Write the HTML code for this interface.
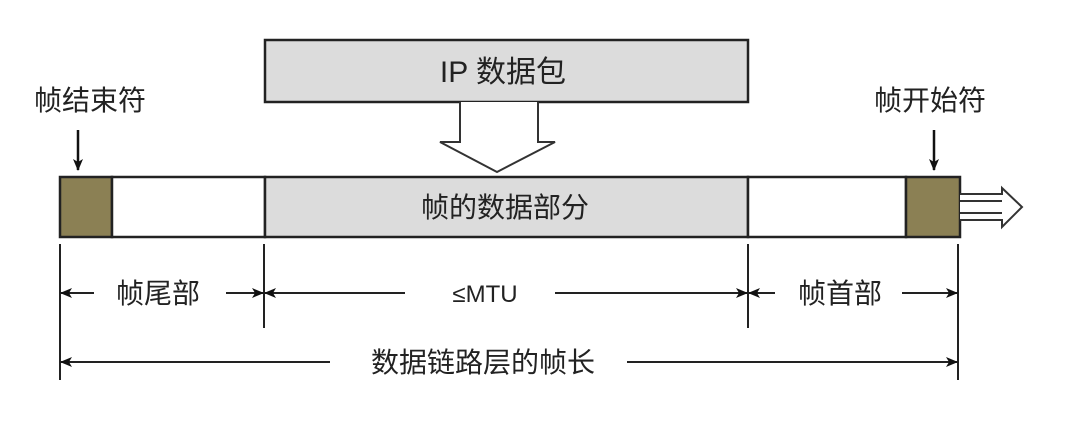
<!DOCTYPE html>
<html><head><meta charset="utf-8"><style>
body{margin:0;background:#fff;}
svg text{font-family:"Liberation Sans","Noto Sans CJK SC",sans-serif;fill:#222;}
</style></head><body>
<svg width="1086" height="416" viewBox="0 0 1086 416" xmlns="http://www.w3.org/2000/svg">
<defs>
<marker id="a" markerWidth="12" markerHeight="10" refX="11" refY="5" orient="auto" markerUnits="userSpaceOnUse"><path d="M0,0 L12,5 L0,10 L3,5 Z" fill="#111"/></marker>
</defs>
<rect x="265" y="40" width="483" height="62" fill="#dcdcdc" stroke="#222" stroke-width="2.5"/>
<text x="503" y="82" font-size="30" text-anchor="middle">IP 数据包</text>
<path d="M460,102 L460,142 L440,142 L497,172 L555,142 L538,142 L538,102" fill="#fff" stroke="#333" stroke-width="2"/>
<text x="90" y="110" font-size="28" text-anchor="middle">帧结束符</text>
<text x="930" y="110" font-size="28" text-anchor="middle">帧开始符</text>
<line x1="78" y1="130" x2="78" y2="170" stroke="#111" stroke-width="2.5" marker-end="url(#a)"/>
<line x1="934" y1="130" x2="934" y2="170" stroke="#111" stroke-width="2.5" marker-end="url(#a)"/>
<rect x="60" y="177" width="52" height="60" fill="#8b8054" stroke="#222" stroke-width="2.5"/>
<rect x="112" y="177" width="153" height="60" fill="#fff" stroke="#222" stroke-width="2.5"/>
<rect x="265" y="177" width="483" height="60" fill="#dcdcdc" stroke="#222" stroke-width="2.5"/>
<rect x="748" y="177" width="158" height="60" fill="#fff" stroke="#222" stroke-width="2.5"/>
<rect x="906" y="177" width="54" height="60" fill="#8b8054" stroke="#222" stroke-width="2.5"/>
<text x="505" y="217" font-size="28" text-anchor="middle">帧的数据部分</text>
<path d="M960,194 L1002,194 L1002,188 L1022,207 L1002,227 L1002,220 L960,220 M960,201 L1002,201 M960,213 L1002,213" fill="#fff" stroke="#333" stroke-width="2"/>
<g stroke="#222" stroke-width="2">
<line x1="60" y1="244" x2="60" y2="380"/>
<line x1="264" y1="244" x2="264" y2="328"/>
<line x1="748" y1="244" x2="748" y2="328"/>
<line x1="958" y1="244" x2="958" y2="380"/>
<line x1="94" y1="293" x2="61" y2="293" marker-end="url(#a)"/>
<line x1="226" y1="293" x2="263" y2="293" marker-end="url(#a)"/>
<line x1="405" y1="293" x2="265" y2="293" marker-end="url(#a)"/>
<line x1="555" y1="293" x2="747" y2="293" marker-end="url(#a)"/>
<line x1="775" y1="293" x2="749" y2="293" marker-end="url(#a)"/>
<line x1="902" y1="293" x2="957" y2="293" marker-end="url(#a)"/>
<line x1="330" y1="362" x2="61" y2="362" marker-end="url(#a)"/>
<line x1="627" y1="362" x2="957" y2="362" marker-end="url(#a)"/>
</g>
<text x="158" y="303" font-size="28" text-anchor="middle">帧尾部</text>
<text x="485" y="302" font-size="24" font-family="Liberation Mono" text-anchor="middle">≤MTU</text>
<text x="840" y="303" font-size="28" text-anchor="middle">帧首部</text>
<text x="483" y="372" font-size="28" text-anchor="middle">数据链路层的帧长</text>
</svg>
</body></html>
